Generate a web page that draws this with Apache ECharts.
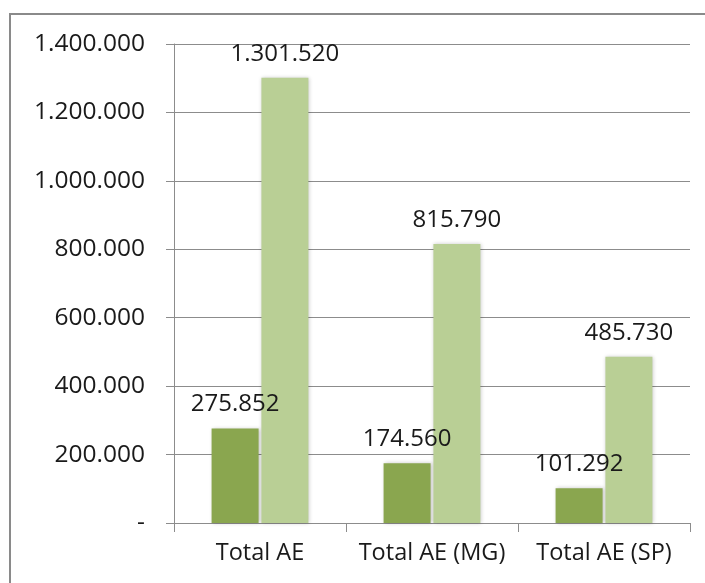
<!DOCTYPE html>
<html>
<head>
<meta charset="utf-8">
<script src="https://cdn.jsdelivr.net/npm/echarts@6/dist/echarts.min.js"></script>
<style>
  html, body { margin: 0; padding: 0; background: #ffffff; }
  #chart { width: 705px; height: 583px; }
</style>
</head>
<body>
<div id="chart"></div>
<script>
// Categories and the two series shown side by side in each group
const categories = ['Total AE', 'Total AE (MG)', 'Total AE (SP)'];
const seriesDark = [275852, 174560, 101292];
const seriesLight = [1301520, 815790, 485730];

// Value axis range
const yMin = 0;
const yMax = 1400000;
const yStep = 200000;

// Thousands separated by dots, zero written as a dash
function fmt(v) {
  if (v === 0) return '-';
  return String(Math.round(v)).replace(/\B(?=(\d{3})+(?!\d))/g, '.');
}

const FONT = '"Open Sans", "DejaVu Sans", sans-serif';
const TEXT = '#1a1a1a';

const chart = echarts.init(document.getElementById('chart'), null, { renderer: 'canvas' });

const barLabel = {
  show: true,
  position: 'top',
  distance: 12,
  color: TEXT,
  fontFamily: FONT,
  fontSize: 24,
  formatter: p => fmt(p.value)
};

const barShadow = {
  shadowBlur: 4,
  shadowColor: 'rgba(0,0,0,0.22)',
  shadowOffsetX: 1,
  shadowOffsetY: 0
};

chart.setOption({
  animation: false,
  backgroundColor: '#ffffff',
  graphic: [{
    type: 'rect',
    shape: { x: 10, y: 14, width: 740, height: 620 },
    style: { fill: 'none', stroke: '#8a8a8a', lineWidth: 2 },
    silent: true
  }],
  grid: { left: 174, right: 15, top: 44, bottom: 60, containLabel: false },
  xAxis: {
    type: 'category',
    data: categories,
    axisLine: { show: true, lineStyle: { color: '#8c8c8c', width: 1 } },
    axisTick: { show: true, length: 9, lineStyle: { color: '#8c8c8c' } },
    axisLabel: { color: TEXT, fontFamily: FONT, fontSize: 23.5, margin: 18, interval: 0 }
  },
  yAxis: {
    type: 'value',
    min: yMin,
    max: yMax,
    interval: yStep,
    axisLine: { show: true, lineStyle: { color: '#8c8c8c', width: 1 } },
    axisTick: { show: true, length: 8, lineStyle: { color: '#8c8c8c' } },
    axisLabel: { color: TEXT, fontFamily: FONT, fontSize: 24.5, margin: 29, formatter: fmt },
    splitLine: { show: true, lineStyle: { color: '#8c8c8c', width: 1 } }
  },
  series: [
    {
      type: 'bar',
      data: seriesDark,
      barWidth: 47,
      barGap: '6%',
      itemStyle: Object.assign({ color: '#8aa64f' }, barShadow),
      label: barLabel
    },
    {
      type: 'bar',
      data: seriesLight,
      barWidth: 47,
      itemStyle: Object.assign({ color: '#b9cf95' }, barShadow),
      label: barLabel
    }
  ]
});
</script>
</body>
</html>
